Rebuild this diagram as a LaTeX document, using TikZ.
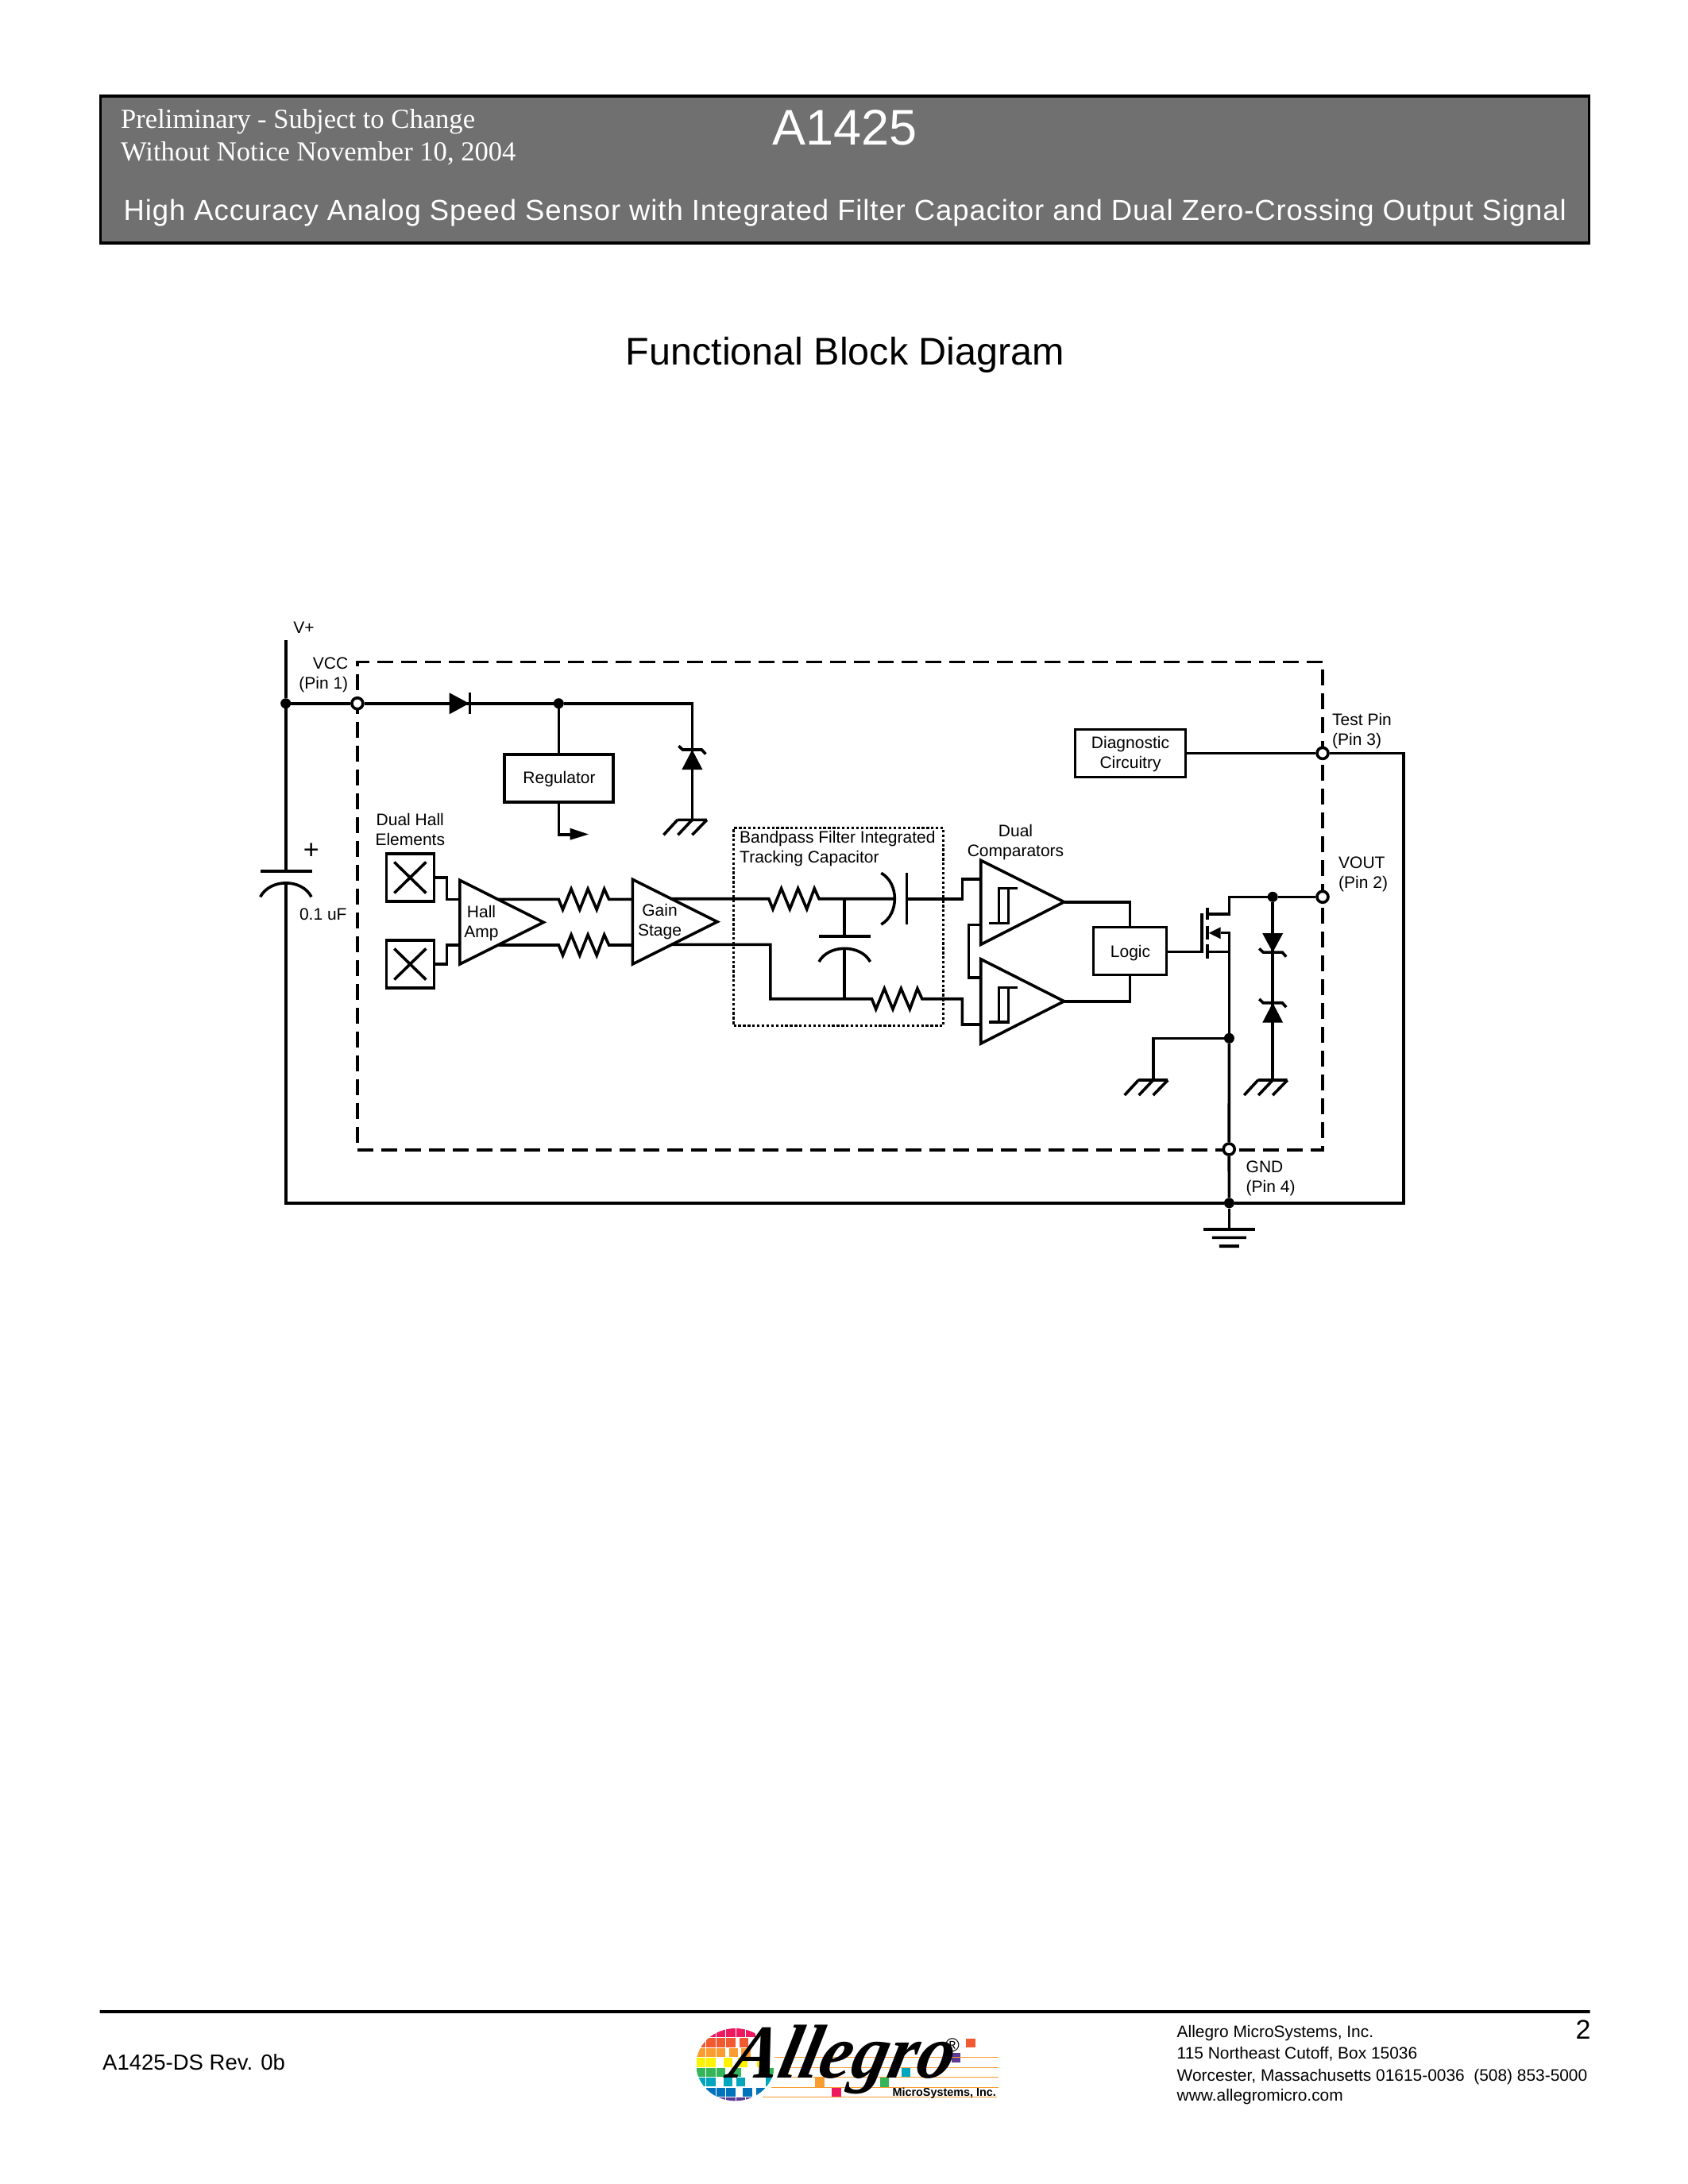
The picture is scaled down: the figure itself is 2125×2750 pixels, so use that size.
\documentclass[tikz,border=0pt]{standalone}
\usepackage{fontspec}
\setmainfont{Liberation Sans}
\newfontfamily\timesf{Liberation Serif}
\definecolor{bandgray}{HTML}{707070}
\definecolor{lgred}{HTML}{ED1A5F}
\definecolor{lgoran}{HTML}{F15A31}
\definecolor{lgamb}{HTML}{F99D31}
\definecolor{lgyel}{HTML}{FFF200}
\definecolor{lggrn}{HTML}{35B559}
\definecolor{lgteal}{HTML}{00A6BD}
\definecolor{lgblue}{HTML}{0073BC}
\definecolor{lgpur}{HTML}{5B3A97}
\newcommand{\rzig}{-- ++(5.2,13) -- ++(10.6,-26) -- ++(10.7,26) -- ++(10.3,-26) -- ++(11.1,26) -- ++(9.5,-26) -- ++(5.9,13)}
\newcommand{\lgrow}[4]{\foreach \a/\b in {#4} {\fill[#1] (\a,#2) rectangle (\b,#3);}}
\tikzset{
  wire/.style={line width=3.6,line join=miter},
  lbl/.style={font=\fontsize{21}{25}\selectfont,align=center,inner sep=0},
  lblL/.style={font=\fontsize{21}{25}\selectfont,align=left,inner sep=0},
  blk/.style={draw,line width=3.6,inner sep=0},
  dot/.style={circle,fill=black,inner sep=0,minimum size=13},
  pinc/.style={circle,draw,fill=white,line width=3.6,inner sep=0,minimum size=14},
  hatch/.pic={\draw[wire] (-18.5,0) -- (18.5,0) (-18.5,0) -- (-36,19) (0,0) -- (-18,19) (18.5,0) -- (0,19);},
  earth/.pic={\fill (-32.5,-2) rectangle (32.5,2);
     \fill (-21.5,8.9) rectangle (21.5,12.5) (-12.5,19.5) rectangle (12.5,23.5);},
  zenup/.pic={\fill (0,0) -- (13,25) -- (-13,25) -- cycle;
     \draw[wire] (-17,-4.7) -- (-12,0) -- (12,0) -- (17,5.5);},
  zendown/.pic={\fill (0,0) -- (13,-24) -- (-13,-24) -- cycle;
     \draw[wire] (-17,-4.7) -- (-12,0) -- (12,0) -- (17,5.5);},
}
\begin{document}
\begin{tikzpicture}[x=1pt,y=-1pt]
\useasboundingbox (0,0) rectangle (2125,2750);
\fill[white] (0,0) rectangle (2125,2750);

% header band
\node[draw=black,fill=bandgray,line width=3.5,inner sep=0,minimum width=1874,minimum height=185] (band) at (1063.5,213.5) {};
\node[anchor=base west,inner sep=0,text=white,font=\timesf\fontsize{34.6}{40}\selectfont] (hd1) at (152,161) {Preliminary - Subject to Change};
\node[anchor=base west,inner sep=0,text=white,font=\timesf\fontsize{34.6}{40}\selectfont] (hd2) at (152,202.7) {Without Notice November 10, 2004};
\node[anchor=base west,inner sep=0,text=white,font=\fontsize{63}{70}\selectfont] (hd3) at (972,182.7) {A1425};
\node[anchor=base west,inner sep=0,text=white,font=\fontsize{36.5}{40}\selectfont\addfontfeatures{LetterSpace=2.45}] (hd4) at (155.5,277.3) {High Accuracy Analog Speed Sensor with Integrated Filter Capacitor and Dual Zero-Crossing Output Signal};
\node[anchor=base,inner sep=0,font=\fontsize{48.5}{55}\selectfont] (ttl) at (1064,459.5) {Functional Block Diagram};

% boundary boxes
\node[draw,line width=3.4,dash pattern=on 20 off 10,inner sep=0,minimum width=1215,minimum height=614.7] (chip) at (1057.5,1140.7) {};
\node[draw,line width=3.3,dash pattern=on 3.3 off 2.6,inner sep=0,minimum width=264,minimum height=249] (filt) at (1055.5,1167) {};

% pins and junctions
\node[pinc] (pin1) at (449.9,885.7) {};
\node[pinc] (pin3) at (1665,948.4) {};
\node[pinc] (pin2) at (1665,1129.3) {};
\node[pinc] (pin4) at (1547.2,1447) {};
\node[dot] (j1) at (359.7,885.7) {};
\node[dot] (j2) at (703.3,885.7) {};
\node[dot] (j3) at (1602.2,1129.3) {};
\node[dot] (j4) at (1547.4,1307.3) {};
\node[dot] (j5) at (1547.4,1514.8) {};

% blocks
\node[blk,minimum width=137,minimum height=60] (reg) at (703.3,980) {};
\node[lbl] (regt) at (704,981.5) {Regulator};
\node[blk,minimum width=60,minimum height=60] (h1) at (516.3,1105) {};
\node[blk,minimum width=60,minimum height=60] (h2) at (516.3,1214) {};
\node[blk,line width=3.3,minimum width=92,minimum height=60] (logic) at (1422.5,1197.7) {};
\node[lbl] (logt) at (1423,1200.5) {Logic};
\node[blk,minimum width=139,minimum height=60] (diag) at (1423,948.4) {};
\node[lbl] (diagt) at (1423,949.3) {Diagnostic\\Circuitry};

% coordinates
\coordinate (vtop) at (359.7,806);
\coordinate (cap1) at (359.7,1096.7);
\coordinate (cap1b) at (359.7,1111.7);
\coordinate (rl) at (359.7,1514.8);
\coordinate (rr) at (1766.7,1514.8);
\coordinate (zc) at (871.4,885.7);
\coordinate (z1) at (871.4,944);
\coordinate (g1) at (871.4,1032.3);
\coordinate (ro) at (719,1051);
\coordinate (hin1) at (578.8,1132.3);
\coordinate (hin2) at (578.8,1190);
\coordinate (hout1) at (627,1132.3);
\coordinate (hout2) at (627,1190);
\coordinate (r1a) at (703.3,1132.3);
\coordinate (r2a) at (703.3,1190);
\coordinate (gin1) at (796.3,1132.3);
\coordinate (gin2) at (796.3,1190);
\coordinate (gout1) at (845,1131.7);
\coordinate (gout2) at (845,1189.3);
\coordinate (fr1) at (967.8,1131.7);
\coordinate (ft) at (1063,1131.7);
\coordinate (fc) at (1126.3,1131.7);
\coordinate (fp) at (1141.4,1131.7);
\coordinate (fb) at (1063,1179);
\coordinate (fb2) at (1063,1194.3);
\coordinate (fl) at (1063,1257.7);
\coordinate (fr2) at (1097.5,1257.7);
\coordinate (ci1) at (1234.7,1106.7);
\coordinate (ci1b) at (1234.7,1164.3);
\coordinate (ci2) at (1234.7,1290);
\coordinate (ci2b) at (1234.7,1231);
\coordinate (co1) at (1339.5,1135.7);
\coordinate (co2) at (1339.5,1260.7);
\coordinate (gate) at (1512.7,1198.3);
\coordinate (dr) at (1520,1151);
\coordinate (sr) at (1537,1174.3);
\coordinate (dd) at (1520,1198.3);
\coordinate (nd) at (1547.4,1198.3);
\coordinate (ns) at (1547.4,1174.3);
\coordinate (g2) at (1451.7,1360);
\coordinate (g3) at (1602.2,1360);
\coordinate (gnde) at (1547.4,1547.7);

% wires
\draw[wire] (vtop) -- (j1) -- (cap1);
\draw[wire] (j1) -- (pin1);
\draw[wire] (pin1) -- (j2);
\draw[wire] (j2) -- (zc) -- (z1) -- (g1);
\draw[wire] (j2) -- (reg.north);
\draw[wire] (reg.south) |- (ro);
\draw[wire] (cap1b) -- (rl) -- (j5) -- (rr) |- (pin3);
\draw[wire] (diag.east) -- (pin3);
\draw[wire] (h1.east) -- ++(14.2,0) |- (hin1);
\draw[wire] (h2.east) -- ++(14.2,0) |- (hin2);
\draw[wire] (hout1) -- (r1a) \rzig -- (gin1);
\draw[wire] (hout2) -- (r2a) \rzig -- (gin2);
\draw[wire] (gout1) -- (fr1) \rzig -- (fc);
\draw[wire] (ft) -- (fb);
\draw[wire] (fb2) -- (fl);
\draw[wire] (gout2) -| (969.8,1257.7) -- (fr2) \rzig -| (1211.4,1290) -- (ci2);
\draw[wire] (fp) -| (1211.4,1106.7) -- (ci1);
\draw[wire] (ci1b) -| (1219.3,1231) -- (ci2b);
\draw[wire] (co1) -| (logic.north);
\draw[wire] (co2) -| (logic.south);
\draw[wire] (logic.east |- gate) -- (gate);
\draw[wire] (pin2) -- (j3);
\draw[wire] (j3) -| (1547.5,1151) -- (dr);
\draw[wire] (j3) -- (g3);
\draw[wire] (sr) -- (ns) -- (j4);
\draw[wire] (dd) -- (nd);
\draw[wire] (j4) -| (g2);
\draw[wire] (j4) -- (pin4);
\draw[wire] (pin4) -- (j5);
\draw[wire] (j5) -- (gnde);

% capacitors
\fill (327.7,1095) rectangle (393,1098.6);
\draw[wire] (327.7,1129.3) .. controls (340,1106) and (380,1106) .. (392,1129.3);
\fill (1031,1177.2) rectangle (1095.5,1180.8);
\draw[wire] (1031,1211) .. controls (1043,1188.7) and (1083.5,1188.7) .. (1095.5,1211);
\draw[wire] (1109.3,1099.3) .. controls (1132,1112) and (1132,1151) .. (1109.3,1164);
\draw[wire] (1141.4,1099.3) -- (1141.4,1164);

% diode and zeners
\fill (565.7,872.3) -- (565.7,899.3) -- (590.6,885.7) -- cycle;
\draw[wire] (591.4,872.3) -- (591.4,899.3);
\pic at (z1) {zenup};
\pic at (1602.2,1199.1) {zendown};
\pic at (1602.2,1262.7) {zenup};
\fill (717.5,1042.7) -- (741,1050.5) -- (717.5,1057.7) -- cycle;

% grounds
\pic at (g1) {hatch};
\pic at (g2) {hatch};
\pic at (g3) {hatch};
\pic at (gnde) {earth};

% hall crosses
\draw[wire] (h1.center) ++(-20,-19.5) -- ++(40,39) (h1.center) ++(20,-19.5) -- ++(-40,39);
\draw[wire] (h2.center) ++(-20,-19.5) -- ++(40,39) (h2.center) ++(20,-19.5) -- ++(-40,39);

% amplifiers
\draw[wire] (578.8,1108.3) -- (684.3,1161.3) -- (578.8,1214) -- cycle;
\draw[wire] (796.3,1107.3) -- (903,1160.7) -- (796.3,1214) -- cycle;
\draw[wire] (1234.7,1083.3) -- (1339.5,1135.7) -- (1234.7,1189.3) -- cycle;
\draw[wire] (1234.7,1207.7) -- (1339.5,1260.7) -- (1234.7,1314) -- cycle;
\draw[wire] (1245,1162.3) -- (1269.5,1162.3) -- (1269.5,1118.3) -- (1280.6,1118.3) (1269.5,1118.3) -- (1257.6,1118.3) -- (1257.6,1162.3);
\draw[wire] (1245,1286.7) -- (1269.5,1286.7) -- (1269.5,1243.3) -- (1280.6,1243.3) (1269.5,1243.3) -- (1257.6,1243.3) -- (1257.6,1286.7);

% mosfet
\draw[line width=4] (1520,1142.7) -- (1520,1158.3) (1520,1165.7) -- (1520,1183.3) (1520,1189.3) -- (1520,1207.3);
\draw[wire] (1512.7,1150) -- (1512.7,1199.9);
\fill (1521.7,1174.8) -- (1536.7,1167.3) -- (1536.7,1182.3) -- cycle;

% labels
\node[lbl] (tvp) at (382.5,790.7) {V+};
\node[lbl,align=right,anchor=east] (tvcc) at (438.4,850) {VCC\\(Pin 1)};
\node[lbl] (tplus) at (391.7,1072) {\fontsize{34}{36}\selectfont +};
\node[lbl] (tcap) at (406.8,1151) {0.1 uF};
\node[lbl] (tdh) at (516.3,1044.5) {Dual Hall\\Elements};
\node[lbl] (tha) at (606,1163) {Hall\\Amp};
\node[lbl] (tgs) at (830.5,1160.5) {Gain\\Stage};
\node[lblL,anchor=north west] (tbp) at (931,1046) {Bandpass Filter Integrated\\Tracking Capacitor};
\node[lbl] (tdc) at (1278.5,1060.7) {Dual\\Comparators};
\node[lblL,anchor=west] (ttp) at (1677,921) {Test Pin\\(Pin 3)};
\node[lblL,anchor=west] (tvo) at (1685,1100.5) {VOUT\\(Pin 2)};
\node[lblL,anchor=west] (tgn) at (1568.5,1483.5) {GND\\(Pin 4)};

% footer
\node[draw,line width=4,inner sep=0,minimum width=1876,minimum height=0] (frule) at (1063.5,2532.7) {};
\node[anchor=base west,inner sep=0,font=\fontsize{27.5}{32}\selectfont] (fdoc) at (129,2606) {A1425-DS Rev. 0b};
\node[anchor=base west,inner sep=0,font=\fontsize{20.9}{25}\selectfont] (fa1) at (1481.5,2565) {Allegro MicroSystems, Inc.};
\node[anchor=base west,inner sep=0,font=\fontsize{20.9}{25}\selectfont] (fa2) at (1481.5,2592.3) {115 Northeast Cutoff, Box 15036};
\node[anchor=base west,inner sep=0,font=\fontsize{20.9}{25}\selectfont] (fa3) at (1481.5,2620) {Worcester, Massachusetts 01615-0036\ \ (508) 853-5000};
\node[anchor=base west,inner sep=0,font=\fontsize{20.9}{25}\selectfont] (fa4) at (1481.5,2645.5) {www.allegromicro.com};
\node[anchor=base,inner sep=0,font=\fontsize{34}{38}\selectfont] (fpg) at (1993,2567) {2};

% logo
\begin{scope}[shift={(860,2540)},x=0.33333pt,y=-0.33333pt]
  \begin{scope}
    \clip (197,179) ellipse [x radius=148,y radius=137];
    \lgrow{lgred}{43}{75}{87/122,125/160,162/197,200/235,237/272}
    \lgrow{lgoran}{79}{113}{50/85,87/122,125/160,162/197,213/247}
    \lgrow{lgamb}{117}{150}{50/85,87/122,125/160,175/208,220/255,312/328}
    \lgrow{lgyel}{153}{188}{50/85,87/122,153/187,207/242,280/300}
    \lgrow{lggrn}{191}{225}{50/85,87/122,125/160,183/220,312/345}
    \lgrow{lgteal}{228}{262}{50/85,87/122,153/187,200/235,312/340}
    \lgrow{lgblue}{266}{300}{50/85,87/122,125/160,162/197,225/260,275/310}
    \lgrow{lgpur}{303}{320}{87/122,125/160,162/197,200/235,237/272}
  \end{scope}
  \fill[lgyel] (378,191) rectangle (400,225);
  \fill[lgamb] (498,228) rectangle (533,264);
  \fill[lgred] (561,266) rectangle (597,300);
  \fill[lggrn] (743,228) rectangle (777,264);
  \fill[lgteal] (826,191) rectangle (858,225);
  \fill[lgpur] (1013,135) rectangle (1047,170);
  \fill[lgoran] (1068,81) rectangle (1104,114);
  \draw[lgamb,line width=1.4] (345,151) -- (1190,151) (400,190) -- (1190,190) (375,226) -- (1190,226) (333,265) -- (1190,265) (300,301) -- (1185,301);
  \node[anchor=base west,inner sep=0,text=black,font=\timesf\bfseries\itshape\fontsize{96}{100}\selectfont\addfontfeatures{FakeSlant=0.22,FakeStretch=0.96}] (lgtxt) at (165,230) {Allegro};
  \node[inner sep=0,font=\fontsize{24}{26}\selectfont] (lgreg) at (1017,107) {®};
  \node[anchor=base west,inner sep=0,font=\bfseries\fontsize{14.4}{16}\selectfont] (lgms) at (790,298) {MicroSystems, Inc.};
\end{scope}
\end{tikzpicture}
\end{document}
